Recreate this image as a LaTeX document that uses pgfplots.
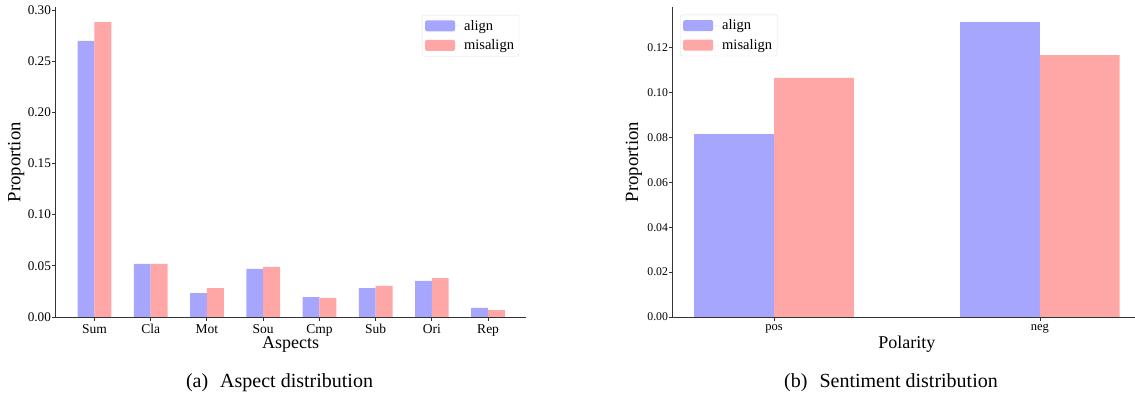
\documentclass[border=0pt]{standalone}
\usepackage{fontspec}
\setmainfont{Liberation Serif}
\usepackage{pgfplots}
\pgfplotsset{compat=1.18}
\definecolor{cAlign}{RGB}{166,166,255}
\definecolor{cMis}{RGB}{255,166,166}
\pgfplotsset{
  mybase/.style={
    scale only axis,
    anchor=south west,
    axis x line*=bottom,
    axis y line*=left,
    axis line style={black!80, line width=0.9pt},
    tick style={black!80, line width=0.8pt},
    tick align=outside,
    major tick length=3.5pt,
    /pgf/number format/assume math mode=true,
    yticklabel style={/pgf/number format/fixed, /pgf/number format/fixed zerofill, /pgf/number format/precision=2, inner xsep=1pt},
    xticklabel style={inner ysep=1pt, yshift=-2.5pt},
    axis on top,
    legend cell align=left,
    legend image code/.code={\fill[##1] (0pt,-5.5pt) rectangle (30pt,5.5pt); \path (0pt,0pt) -- (37pt,0pt);},
    legend style={draw=black!12, rounded corners=2pt, font=\fontsize{14.5}{16}\selectfont, row sep=4pt, inner xsep=3pt, inner ysep=3pt},
  },
}
\begin{document}
\begin{tikzpicture}
\useasboundingbox (0,0) rectangle (1135pt,402pt);
% ---------- (a) ----------
\begin{axis}[mybase,
  at={(55.6pt,85pt)}, width=470.2pt, height=309.5pt,
  xmin=-0.69, xmax=7.67, ymin=0, ymax=0.3024,
  xtick={0,1,2,3,4,5,6,7},
  xticklabels={Sum,Cla,Mot,Sou,Cmp,Sub,Ori,Rep},
  ytick={0,0.05,0.10,0.15,0.20,0.25,0.30},
  xticklabel style={font=\fontsize{13.5}{14}\selectfont},
  yticklabel style={font=\fontsize{13.2}{14}\selectfont},
  xlabel={Aspects}, ylabel={Proportion},
  xlabel style={font=\fontsize{18}{20}\selectfont, at={(axis description cs:0.5,-0.089)}, anchor=center, inner sep=0pt},
  ylabel style={font=\fontsize{18.7}{20}\selectfont, at={(axis description cs:-0.084,0.5)}, anchor=center},
  legend style={at={(0.986,0.976)}, anchor=north east},
]
\addplot[ybar, bar width=0.3, bar shift=-0.15, fill=cAlign, draw=none] coordinates {
 (0,0.2697) (1,0.0518) (2,0.0234) (3,0.0469) (4,0.0195) (5,0.0283) (6,0.0352) (7,0.0088)};
\addlegendentry{align}
\addplot[ybar, bar width=0.3, bar shift=0.15, fill=cMis, draw=none] coordinates {
 (0,0.2882) (1,0.0518) (2,0.0283) (3,0.0489) (4,0.0186) (5,0.0303) (6,0.0381) (7,0.0068)};
\addlegendentry{misalign}
\end{axis}
% ---------- (b) ----------
\begin{axis}[mybase,
  at={(672.7pt,85pt)}, width=468.3pt, height=309.8pt,
  xmin=-0.381, xmax=1.38, ymin=0, ymax=0.138,
  xtick={0,1}, xticklabels={pos,neg},
  ytick={0,0.02,0.04,0.06,0.08,0.10,0.12},
  xticklabel style={font=\fontsize{12.5}{13}\selectfont},
  yticklabel style={font=\fontsize{11.8}{13}\selectfont},
  xlabel={Polarity}, ylabel={Proportion},
  xlabel style={font=\fontsize{18}{20}\selectfont, at={(axis description cs:0.5,-0.088)}, anchor=center, inner sep=0pt},
  ylabel style={font=\fontsize{18.7}{20}\selectfont, at={(axis description cs:-0.083,0.5)}, anchor=center},
  legend style={at={(0.0156,0.976)}, anchor=north west},
]
\addplot[ybar, bar width=0.3, bar shift=-0.15, fill=cAlign, draw=none] coordinates {(0,0.0815) (1,0.1314)};
\addlegendentry{align}
\addplot[ybar, bar width=0.3, bar shift=0.15, fill=cMis, draw=none] coordinates {(0,0.1065) (1,0.1167)};
\addlegendentry{misalign}
\end{axis}
\node[font=\fontsize{20}{24}\selectfont, anchor=center] at (279.5pt,19pt) {(a)\hspace{0.6em}Aspect distribution};
\node[font=\fontsize{20}{24}\selectfont, anchor=center] at (891pt,19pt) {(b)\hspace{0.6em}Sentiment distribution};
\end{tikzpicture}
\end{document}
